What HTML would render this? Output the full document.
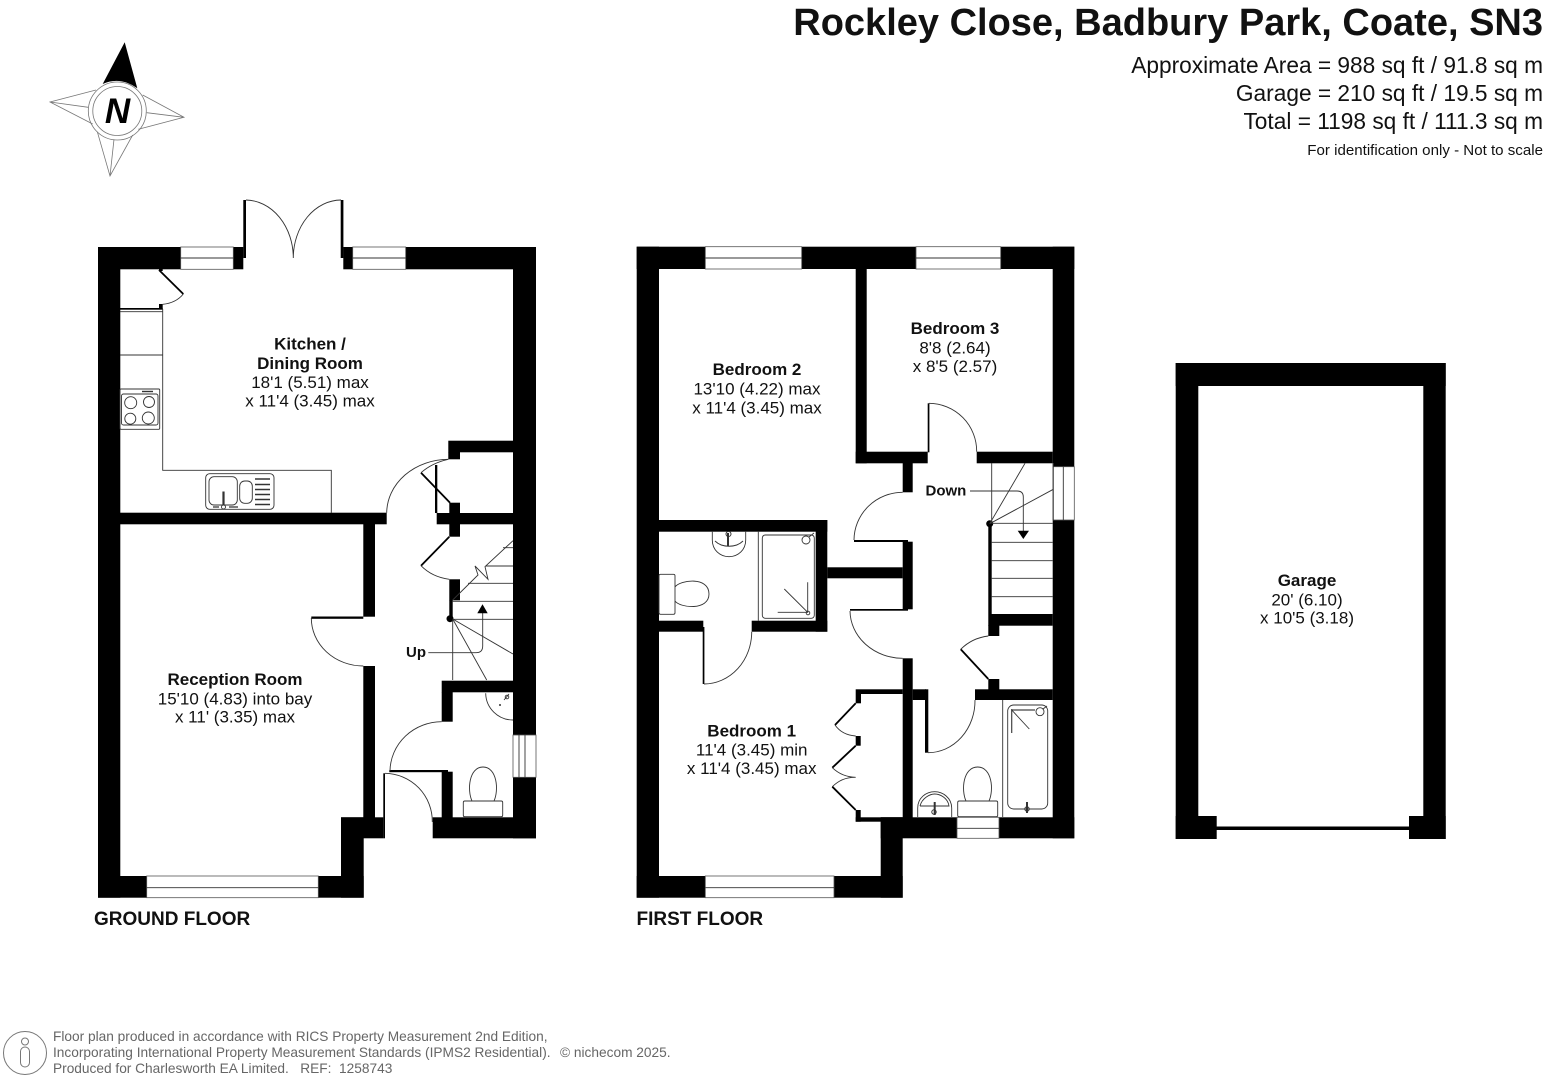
<!DOCTYPE html>
<html><head><meta charset="utf-8"><style>
html,body{margin:0;padding:0;background:#fff}
svg{display:block}
text{font-family:"Liberation Sans",sans-serif;fill:#111}
.b{font-weight:bold;font-size:17px;text-anchor:middle}
.r{font-size:17px;text-anchor:middle}
.h{font-size:22.7px;text-anchor:end}
.f{font-size:13.7px;fill:#666;white-space:pre}
.t{fill:none;stroke:#333;stroke-width:.9}
.c{fill:none;stroke:#777;stroke-width:.8}
.k{fill:none;stroke:#000;stroke-width:1.8}
.w{fill:#fff;stroke:#555;stroke-width:.8}
</style></head><body>
<svg width="1548" height="1080" viewBox="0 0 1548 1080" xmlns="http://www.w3.org/2000/svg">
<rect width="1548" height="1080" fill="#fff"/>

<!-- header -->
<text x="1543" y="35" text-anchor="end" font-weight="bold" font-size="38">Rockley Close, Badbury Park, Coate, SN3</text>
<text class="h" x="1543" y="73">Approximate Area = 988 sq ft / 91.8 sq m</text>
<text class="h" x="1543" y="101">Garage = 210 sq ft / 19.5 sq m</text>
<text class="h" x="1543" y="129">Total = 1198 sq ft / 111.3 sq m</text>
<text x="1543" y="155" text-anchor="end" font-size="15.1">For identification only - Not to scale</text>

<!-- compass -->
<path class="c" d="M96 90L50 102L92.700 124M50 102L88.300 107.300M142.700 95L184 117.300L138.300 129.300M184 117.300L146.700 112.700M97.300 131.700L110 176L132.700 135M110 176L114 139.300"/>
<circle class="c" cx="117.300" cy="111" r="29"/><circle class="c" cx="117.300" cy="111" r="24.500"/>
<path d="M124.700 42.300L102.700 84Q120 76 137.300 88.300Z" fill="#000"/>
<text x="117.500" y="123" text-anchor="middle" font-weight="bold" font-style="italic" font-size="35" style="fill:#000">N</text>

<!-- GROUND FLOOR walls -->
<g fill="#000">
<rect x="98" y="247" width="22.300" height="650.700"/>
<rect x="98" y="247" width="145.300" height="22.300"/>
<rect x="343.300" y="247" width="192.700" height="22.300"/>
<rect x="513" y="247" width="23" height="591.300"/>
<rect x="98" y="876" width="265.700" height="21.700"/>
<rect x="341" y="817.300" width="22.700" height="80.400"/>
<rect x="341" y="817.300" width="42.300" height="21"/>
<rect x="432.700" y="817.300" width="103.300" height="21"/>
<rect x="120" y="512.700" width="266.700" height="11.600"/>
<rect x="363.300" y="524" width="11.700" height="92.700"/>
<rect x="311.300" y="616.500" width="52" height="2.300"/>
<rect x="363.300" y="666" width="11.700" height="152"/>
<rect x="448.300" y="440.700" width="65" height="11.600"/>
<rect x="448.300" y="452" width="11.700" height="7.300"/>
<rect x="436.700" y="513" width="76.600" height="11.300"/>
<rect x="449.300" y="502.700" width="10.700" height="34"/>
<rect x="449.300" y="579.300" width="10.700" height="21"/>
<rect x="449.300" y="600" width="3.400" height="20"/>
<circle cx="450" cy="618.700" r="3.500"/>
<rect x="435" y="465" width="2.300" height="48"/>
<rect x="441.700" y="680.700" width="71.600" height="11.600"/>
<rect x="441.700" y="692" width="11" height="29.700"/>
<rect x="389.300" y="770" width="58.700" height="2.200"/>
<rect x="441.700" y="771.700" width="11" height="46.300"/>
<rect x="383.300" y="773.300" width="1.700" height="65"/>
<rect x="243.300" y="200" width="2.700" height="58"/>
<rect x="340.700" y="200" width="2.700" height="58"/>
<rect x="159" y="304" width="3.700" height="5"/>
<rect x="120" y="308" width="42.700" height="1.700"/>
<rect x="159" y="269" width="3.700" height="2"/>
</g>
<!-- windows ground -->
<rect class="w" x="180.700" y="247" width="52.600" height="22.300"/><path class="t" d="M180.700 258H233.300"/>
<rect class="w" x="352.700" y="247" width="53" height="22.300"/><path class="t" d="M352.700 258H405.700"/>
<rect class="w" x="146.700" y="876" width="171.600" height="21.700"/><path class="t" d="M146.700 887.700H318.300"/>
<rect class="w" x="513" y="735" width="23" height="42.300"/><path class="t" d="M525 735V777.300M519 735V777.300"/>
<!-- doors ground -->
<path class="t" d="M246 200A48 58 0 0 1 293.300 258M341 200A48 58 0 0 0 293.300 258"/>
<path class="t" d="M448.300 459.300A62 54 0 0 0 386.700 512.700"/>
<path class="t" d="M311.300 618A52 48 0 0 0 363.300 666"/>
<path class="t" d="M441.700 721.700A52 50 0 0 0 390 770.700"/>
<path class="t" d="M385 773.300A48 48 0 0 1 432.300 822"/>
<path class="t" d="M183.300 294Q176 303 162.700 304.300"/>
<path class="k" d="M159 270L183.300 294"/>
<path class="k" d="M421 472.700L450 502.700"/>
<path class="t" d="M421 472.700Q432 463 448.300 459.300"/>
<path class="k" d="M449.300 536.700L421 565.700"/>
<path class="t" d="M421 565.700Q432 577 449.300 579.300"/>
<!-- kitchen fittings -->
<path class="t" d="M162.700 309V470.300H331.300V513M120 311.700H162.700M120 355H162.700"/>
<rect class="t" x="120" y="389" width="39.700" height="40.300" rx="1"/>
<rect class="t" x="121.500" y="394" width="36.500" height="31" rx="2"/>
<path d="M142 391.500h11" stroke="#333" stroke-width="1.400"/>
<circle class="t" cx="130.700" cy="402.700" r="6"/><circle class="t" cx="149" cy="402" r="5.500"/>
<circle class="t" cx="130.300" cy="418.700" r="5.500"/><circle class="t" cx="148.300" cy="418" r="6"/>
<rect class="t" x="205.700" y="473.700" width="68.300" height="35.600" rx="4"/>
<rect class="t" x="209" y="476.700" width="28.300" height="28.300" rx="5"/>
<rect class="t" x="239.700" y="481" width="12.600" height="22.300" rx="5"/>
<path d="M255 479H270M255 484.500H270M255 489.500H270M255 494.500H270M255 499.500H270M255 504.500H270" stroke="#333" stroke-width="1.400"/>
<path d="M223.500 491.500V505" stroke="#333" stroke-width="2.200"/>
<circle class="t" cx="223.500" cy="507" r="2"/>
<path d="M213 507H219M229 507H238" stroke="#333" stroke-width="1.300"/>
<!-- ground stairs -->
<path class="t" d="M452.700 620V680M452.700 619.300H513M452.700 601.300H513M468 583.300H513M486 566H513M503 547.700H513"/>
<path class="t" d="M452.700 600L478 575L475 566L488 579.300L485 566.700L513 540.700"/>
<path class="t" d="M452.700 619L513 654M452.700 619L486.700 680"/>
<path class="t" d="M428.300 652.700H476Q482.700 652.700 482.700 646V613"/>
<path d="M482.500 604.300L477.300 613.300H487.700Z" fill="#000"/>
<!-- wc ground -->
<path class="t" d="M485.700 693.300A27 27 0 0 0 513 720"/>
<circle class="t" cx="507" cy="697" r="1.800"/><path class="t" d="M504 700L509 694"/><circle cx="500" cy="705" r="1" fill="#333"/>
<rect class="t" x="463.300" y="801" width="39.400" height="15.700" rx="1.500"/>
<path class="t" d="M472 801C467 790 469 767 483 767C497 767 499 790 494 801"/>

<!-- FIRST FLOOR walls -->
<g fill="#000">
<rect x="636.700" y="246.700" width="22.300" height="651"/>
<rect x="636.700" y="246.700" width="437.600" height="22.300"/>
<rect x="1052.700" y="246.700" width="21.600" height="591.600"/>
<rect x="636.700" y="876" width="266" height="21.700"/>
<rect x="880.700" y="817.300" width="22" height="80.400"/>
<rect x="880.700" y="817.300" width="193.600" height="21"/>
<rect x="855.700" y="269" width="11" height="194.300"/>
<rect x="855.700" y="451.700" width="72" height="11.600"/>
<rect x="927.700" y="403.300" width="1.700" height="49"/>
<rect x="976.700" y="451.700" width="76" height="11.600"/>
<rect x="902.700" y="463" width="10" height="29.300"/>
<rect x="854" y="540" width="54" height="2"/>
<rect x="902.700" y="541.700" width="10" height="67.600"/>
<rect x="827.300" y="567.300" width="75.400" height="11"/>
<rect x="659" y="520" width="168.300" height="11.700"/>
<rect x="815.700" y="520" width="11.600" height="111.700"/>
<rect x="751.700" y="620.700" width="75.600" height="11"/>
<rect x="659" y="620.700" width="44.300" height="11"/>
<rect x="702.700" y="627" width="1.700" height="57"/>
<rect x="850" y="609" width="58" height="1.700"/>
<rect x="902.700" y="658.300" width="10" height="160"/>
<rect x="855.700" y="689.300" width="47" height="4.700"/>
<rect x="912.700" y="689.300" width="13.300" height="10.700"/>
<rect x="925" y="689.300" width="3.300" height="63.400"/>
<rect x="975" y="689.300" width="77.700" height="10.700"/>
<rect x="988.300" y="679" width="11" height="11"/>
<rect x="988.300" y="625" width="11" height="11"/>
<rect x="988.300" y="614" width="64.400" height="11.700"/>
<rect x="988.300" y="523.300" width="3.400" height="90.700"/>
<circle cx="989.700" cy="523.700" r="3.500"/>
<rect x="855.700" y="694" width="5.300" height="9.300"/>
<rect x="855.700" y="736" width="5" height="9.700"/>
<rect x="855.700" y="810" width="5" height="11.700"/>
<rect x="855.700" y="817.300" width="47" height="4.400"/>
</g>
<!-- windows first -->
<rect class="w" x="705.300" y="246.700" width="96.400" height="22.300"/><path class="t" d="M705.300 258H801.700"/>
<rect class="w" x="916" y="246.700" width="84.700" height="22.300"/><path class="t" d="M916 258H1000.700"/>
<rect class="w" x="705.300" y="876" width="128.700" height="21.700"/><path class="t" d="M705.300 887.700H834"/>
<rect class="w" x="957" y="817.300" width="42" height="21"/><path class="t" d="M957 828.300H999"/>
<rect class="w" x="1053" y="466.700" width="21.300" height="53.300"/><path class="t" d="M1063.300 466.700V520"/>
<!-- doors first -->
<path class="t" d="M929 403.300A48 48 0 0 1 976.700 451.700"/>
<path class="t" d="M902.700 492.300A49 48 0 0 0 854 540"/>
<path class="t" d="M850 611A53 48 0 0 0 902.700 658.300"/>
<path class="t" d="M704 684A48 52 0 0 0 751.700 631.700"/>
<path class="t" d="M928 752.700A47 52 0 0 0 975 700"/>
<path class="k" d="M988.300 679L960.700 649.300"/>
<path class="t" d="M960.700 649.300Q972 638 988.300 636"/>
<path class="k" d="M855.700 703.300L835 725"/>
<path class="t" d="M835 725Q842 735 855.700 736"/>
<path class="k" d="M855.700 745.700L832.300 767.700"/>
<path class="t" d="M832.300 767.700Q842 777 855.700 777.300Q842 777 832.300 786.700"/>
<path class="k" d="M832.300 786.700L855.700 810"/>
<!-- stairs first -->
<path class="t" d="M991.700 463V523M1053.300 463V520M991.700 523.300H1052.700M991.700 542.300H1052.700M991.700 560.700H1052.700M991.700 578.300H1052.700M991.700 596.700H1052.700"/>
<path class="t" d="M989.700 523.700L1025 463.300M989.700 523.700L1053.300 489.300"/>
<path class="t" d="M970 491H1017Q1023.300 491 1023.300 497V531"/>
<path d="M1017.700 530.700H1029L1023.300 539Z" fill="#000"/>
<!-- en-suite -->
<path class="t" d="M758.300 531.700V620.700"/>
<rect class="t" x="762.300" y="535" width="52" height="83.300" rx="3"/>
<circle class="t" cx="806" cy="540" r="4" fill="#fff"/><path class="t" d="M809 537L814 533"/>
<path class="t" d="M807.700 582.300V612.300H777.700M784.300 589L807.700 612.300"/><circle class="t" cx="808" cy="613" r="1.800"/>
<path class="t" d="M712.300 531.700V540C712.300 550 720 556.700 729 556.700C738 556.700 745.700 550 745.700 540V531.700"/>
<path class="t" d="M715 541C722 548 736 548 743 541"/>
<path d="M728 533V546" stroke="#333" stroke-width="2"/><circle cx="728.500" cy="534" r="2.500" fill="none" stroke="#333"/>
<rect class="t" x="659" y="574.300" width="16" height="40" rx="1.500"/>
<path class="t" d="M675 587C680 580 709 576 709 594C709 611 680 608 675 601"/>
<!-- bathroom -->
<path class="t" d="M1002.700 700V817"/>
<rect class="t" x="1007.700" y="705" width="40" height="104" rx="6"/>
<circle class="t" cx="1040" cy="711.700" r="4" fill="#fff"/><path class="t" d="M1043 709L1047 706"/>
<path d="M1011.700 709V733M1011.700 710H1035" stroke="#444" stroke-width="1.200" fill="none"/><path class="t" d="M1011.700 710L1029.300 729"/>
<path d="M1027 802V813" stroke="#333" stroke-width="2"/><circle cx="1027" cy="809" r="2.200" fill="none" stroke="#333"/>
<rect class="t" x="957.700" y="801" width="40" height="15.700" rx="1.500"/>
<path class="t" d="M966 801C961 790 963 767 977.700 767C992 767 994 790 989 801"/>
<path class="t" d="M917.700 817V808C917.700 798 926 791.700 934.700 791.700C943 791.700 951.700 798 951.700 808V817"/>
<path class="t" d="M920 806C922 798 930 794 934.700 794C940 794 948 798 949 806H920"/>
<path d="M934.700 802V815" stroke="#333" stroke-width="2"/><circle cx="934" cy="812" r="2.200" fill="none" stroke="#333"/>

<!-- GARAGE -->
<g fill="#000">
<rect x="1175.700" y="363" width="270" height="23"/>
<rect x="1175.700" y="363" width="22.600" height="476"/>
<rect x="1423.300" y="363" width="22.400" height="476"/>
<rect x="1175.700" y="816" width="41" height="23"/>
<rect x="1409" y="816" width="36.700" height="23"/>
<rect x="1216" y="826.500" width="194" height="3.500"/>
</g>

<!-- labels -->
<text class="b" x="310" y="349.300">Kitchen /</text>
<text class="b" x="310" y="369">Dining Room</text>
<text class="r" x="310" y="388">18'1 (5.51) max</text>
<text class="r" x="310" y="406.700">x 11'4 (3.45) max</text>
<text class="b" x="235" y="685">Reception Room</text>
<text class="r" x="235" y="704.300">15'10 (4.83) into bay</text>
<text class="r" x="235" y="722.300">x 11' (3.35) max</text>
<text x="406" y="657" font-size="15" font-weight="bold">Up</text>
<text class="b" x="757" y="375">Bedroom 2</text>
<text class="r" x="757" y="394.300">13'10 (4.22) max</text>
<text class="r" x="757" y="413.300">x 11'4 (3.45) max</text>
<text class="b" x="955" y="334">Bedroom 3</text>
<text class="r" x="955" y="353.300">8'8 (2.64)</text>
<text class="r" x="955" y="372">x 8'5 (2.57)</text>
<text x="925.500" y="495.700" font-size="15" font-weight="bold">Down</text>
<text class="b" x="751.700" y="736.300">Bedroom 1</text>
<text class="r" x="751.700" y="755.300">11'4 (3.45) min</text>
<text class="r" x="751.700" y="774">x 11'4 (3.45) max</text>
<text class="b" x="1307" y="586">Garage</text>
<text class="r" x="1307" y="605.500">20' (6.10)</text>
<text class="r" x="1307" y="623.500">x 10'5 (3.18)</text>
<text x="94" y="925" font-size="19" font-weight="bold">GROUND FLOOR</text>
<text x="636.500" y="925" font-size="19" font-weight="bold">FIRST FLOOR</text>

<!-- footer -->
<circle cx="25" cy="1053" r="21.500" fill="none" stroke="#777" stroke-width="1"/>
<circle cx="25" cy="1041.500" r="3.500" fill="none" stroke="#777"/>
<rect x="20.500" y="1047" width="9" height="20" rx="4.500" fill="none" stroke="#777"/>
<text class="f" x="53" y="1041">Floor plan produced in accordance with RICS Property Measurement 2nd Edition,</text>
<text class="f" x="53" y="1057">Incorporating International Property Measurement Standards (IPMS2 Residential).</text>
<text class="f" x="560" y="1057">© nichecom 2025.</text>
<text class="f" x="53" y="1073">Produced for Charlesworth EA Limited.   REF:  1258743</text>
</svg>
</body></html>
